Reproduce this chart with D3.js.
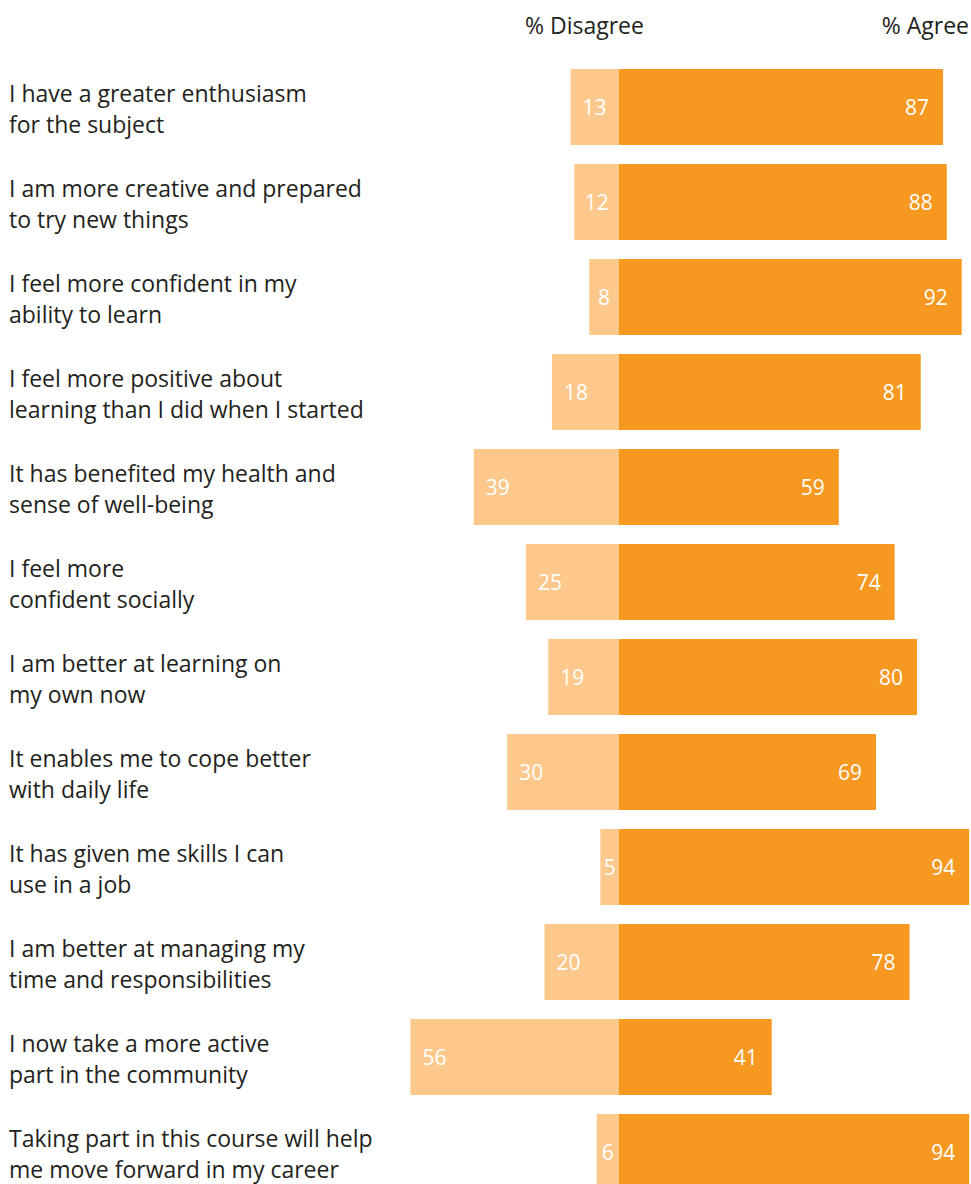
<!DOCTYPE html>
<html>
<head>
<meta charset="utf-8">
<script src="https://cdn.jsdelivr.net/npm/d3@7"></script>
<style>
  html, body { margin: 0; padding: 0; background: #ffffff; }
  svg { display: block; }
  text { font-family: "Open Sans", "Noto Sans", sans-serif; }
</style>
</head>
<body>
<svg id="chart" width="971" height="1184"></svg>
<script>
// Survey statements (two lines each)
const categories = [
  ["I have a greater enthusiasm", "for the subject"],
  ["I am more creative and prepared", "to try new things"],
  ["I feel more confident in my", "ability to learn"],
  ["I feel more positive about", "learning than I did when I started"],
  ["It has benefited my health and", "sense of well-being"],
  ["I feel more", "confident socially"],
  ["I am better at learning on", "my own now"],
  ["It enables me to cope better", "with daily life"],
  ["It has given me skills I can", "use in a job"],
  ["I am better at managing my", "time and responsibilities"],
  ["I now take a more active", "part in the community"],
  ["Taking part in this course will help", "me move forward in my career"]
];

const disagree = [13, 12, 8, 18, 39, 25, 19, 30, 5, 20, 56, 6];
const agree    = [87, 88, 92, 81, 59, 74, 80, 69, 94, 78, 41, 94];

const seriesLabels = ["% Disagree", "% Agree"];

const colors = { disagree: "#FDC88C", agree: "#F79820", text: "#231F20", value: "#FFFFFF" };

const svg = d3.select("#chart");

const keys = categories.map((c, i) => i);

// Diverging scale: negative values to the left of the centre line
const x = d3.scaleLinear().domain([-100, 100]).range([246.5, 991.5]);
const y = d3.scaleBand().domain(keys).range([59.5, 1199.5]).paddingInner(0.2).paddingOuter(0.1);

const rows = svg.append("g").selectAll("g.row")
  .data(keys)
  .join("g")
  .attr("class", "row");

// Disagree bars
rows.append("rect")
  .attr("x", i => x(-disagree[i]))
  .attr("y", i => y(i))
  .attr("width", i => x(0) - x(-disagree[i]))
  .attr("height", y.bandwidth())
  .attr("fill", colors.disagree);

// Agree bars
rows.append("rect")
  .attr("x", x(0))
  .attr("y", i => y(i))
  .attr("width", i => x(agree[i]) - x(0))
  .attr("height", y.bandwidth())
  .attr("fill", colors.agree);

// Disagree values
rows.append("text")
  .attr("y", i => y(i) + y.bandwidth() / 2 + 8)
  .attr("font-size", 21)
  .attr("fill", colors.value)
  .text(i => disagree[i])
  .attr("x", function(i) {
    const x0 = x(-disagree[i]);
    const w = this.getComputedTextLength();
    const mid = (x0 + x(0)) / 2;
    return Math.min(x0 + 12, mid - w / 2);
  });

// Agree values
rows.append("text")
  .attr("x", i => x(agree[i]) - 14)
  .attr("y", i => y(i) + y.bandwidth() / 2 + 8)
  .attr("text-anchor", "end")
  .attr("font-size", 21)
  .attr("fill", colors.value)
  .text(i => agree[i]);

// Statement labels
const labels = rows.append("text")
  .attr("font-size", 23)
  .attr("fill", colors.text);
labels.selectAll("tspan")
  .data(i => categories[i].map((line, k) => ({ line, k, i })))
  .join("tspan")
  .attr("x", 9)
  .attr("y", d => y(d.i) + y.bandwidth() / 2 - 5 + d.k * 31)
  .text(d => d.line);

// Column headers
svg.append("text")
  .attr("x", 525)
  .attr("y", 34)
  .attr("font-size", 23)
  .attr("fill", colors.text)
  .text(seriesLabels[0]);

svg.append("text")
  .attr("x", 969)
  .attr("y", 34)
  .attr("text-anchor", "end")
  .attr("font-size", 23)
  .attr("fill", colors.text)
  .text(seriesLabels[1]);
</script>
</body>
</html>
